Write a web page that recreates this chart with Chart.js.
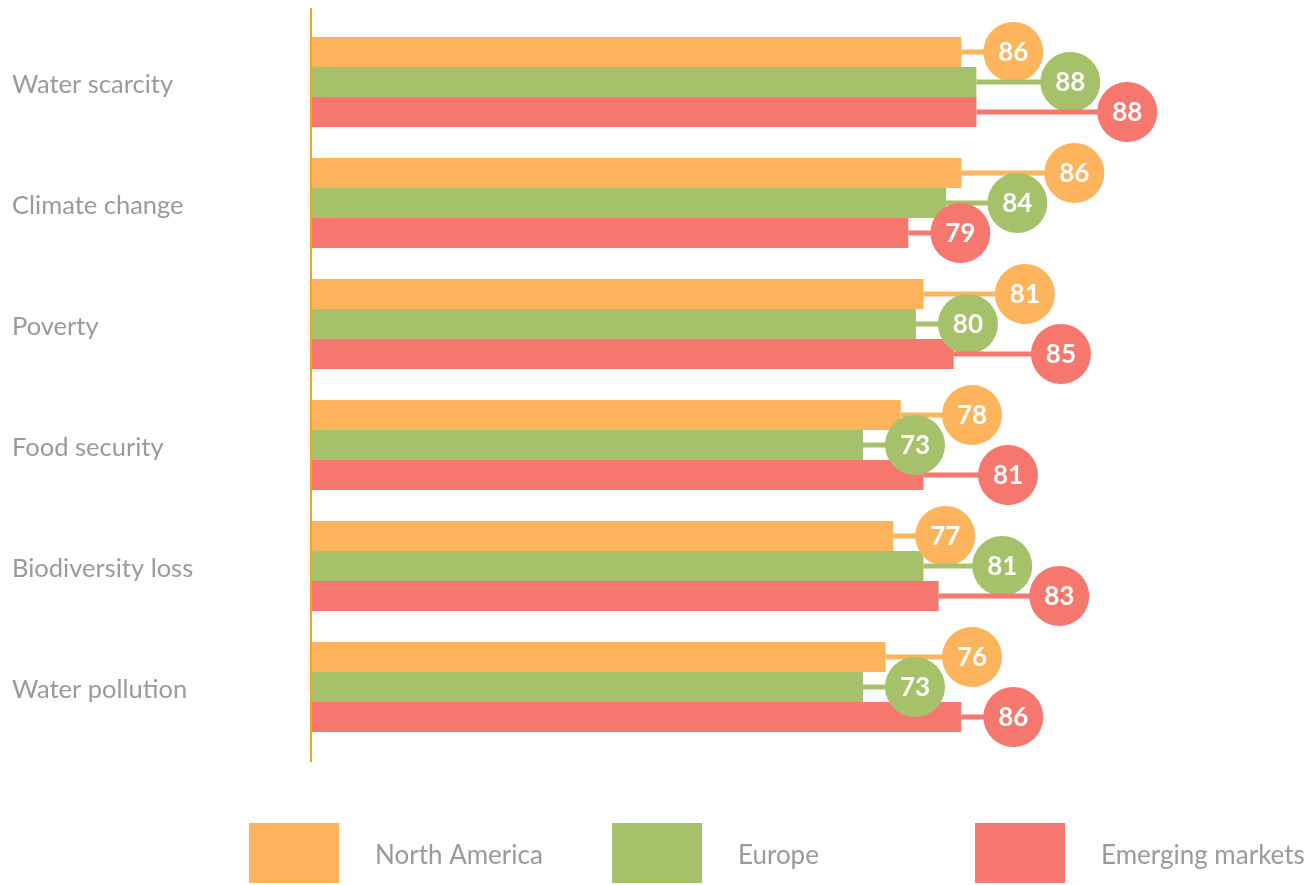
<!DOCTYPE html>
<html>
<head>
<meta charset="utf-8">
<script src="https://cdn.jsdelivr.net/npm/chart.js@4/dist/chart.umd.min.js"></script>
<style>
  body { margin: 0; background: #fff; }
  #wrap { width: 1308px; height: 885px; position: relative; }
</style>
</head>
<body>
<div id="wrap"><canvas id="chart"></canvas></div>
<script>
// datos
const categories = ['Water scarcity', 'Climate change', 'Poverty', 'Food security', 'Biodiversity loss', 'Water pollution'];
const seriesNames = ['North America', 'Europe', 'Emerging markets'];
const northAmerica = [86, 86, 81, 78, 77, 76];
const europe = [88, 84, 80, 73, 81, 73];
const emerging = [88, 79, 85, 81, 83, 86];
const colors = ['#FDB45C', '#A5C26B', '#F6776D'];

const gray = '#9A9A9E';
const R = 30;

// circulos con el valor, separados para que no se tapen
const bubbles = {
  id: 'bubbles',
  afterDatasetsDraw(chart) {
    const ctx = chart.ctx;
    const n = chart.data.labels.length;
    for (let i = 0; i < n; i++) {
      const items = chart.data.datasets.map((ds, k) => {
        const el = chart.getDatasetMeta(k).data[i];
        return { k: k, v: ds.data[i], end: el.x, y: el.y, cx: el.x + 52 };
      });
      // colocar de menor a mayor, empujando a la derecha
      const order = items.slice().sort((a, b) => a.v - b.v || a.k - b.k);
      const placed = [];
      order.forEach(it => {
        let x = it.cx;
        placed.forEach(p => {
          const rows = Math.abs(p.k - it.k);
          const sep = rows === 1 ? 57 : 36;
          if (Math.abs(x - p.cx) < sep) x = Math.max(x, p.cx + sep);
        });
        it.cx = x;
        placed.push(it);
      });
      items.forEach(it => {
        ctx.save();
        ctx.strokeStyle = colors[it.k];
        ctx.lineWidth = 5;
        ctx.beginPath();
        ctx.moveTo(it.end, it.y);
        ctx.lineTo(it.cx, it.y);
        ctx.stroke();
        ctx.fillStyle = colors[it.k];
        ctx.beginPath();
        ctx.arc(it.cx, it.y, R, 0, Math.PI * 2);
        ctx.fill();
        ctx.fillStyle = '#fff';
        ctx.font = 'bold 26px Lato';
        ctx.textAlign = 'center';
        ctx.textBaseline = 'middle';
        ctx.fillText(String(it.v), it.cx, it.y + 1);
        ctx.restore();
      });
    }
  },
  afterDraw(chart) {
    const ctx = chart.ctx;
    // eje vertical naranja
    const x0 = chart.scales.x.getPixelForValue(0);
    ctx.save();
    ctx.strokeStyle = '#F9A11B';
    ctx.lineWidth = 2;
    ctx.beginPath();
    ctx.moveTo(x0, 8);
    ctx.lineTo(x0, 762);
    ctx.stroke();
    // leyenda abajo
    ctx.font = '26px Lato';
    ctx.textBaseline = 'middle';
    ctx.textAlign = 'left';
    seriesNames.forEach((name, k) => {
      const bx = 249 + k * 363;
      ctx.fillStyle = colors[k];
      ctx.fillRect(bx, 823, 90, 60);
      ctx.fillStyle = gray;
      ctx.fillText(name, bx + 126, 856);
    });
    ctx.restore();
  }
};

const chart = new Chart(document.getElementById('chart'), {
  type: 'bar',
  data: {
    labels: categories,
    datasets: [
      { label: seriesNames[0], data: northAmerica, backgroundColor: colors[0] },
      { label: seriesNames[1], data: europe, backgroundColor: colors[1] },
      { label: seriesNames[2], data: emerging, backgroundColor: colors[2] }
    ]
  },
  options: {
    indexAxis: 'y',
    responsive: true,
    maintainAspectRatio: false,
    animation: false,
    categoryPercentage: 0.744,
    barPercentage: 1,
    layout: { padding: { left: 12, right: 14, top: 21.5, bottom: 137.5 } },
    scales: {
      x: { display: false, min: 0, max: 130 },
      y: {
        grid: { display: false },
        border: { display: false },
        ticks: { crossAlign: 'far', labelOffset: 3, color: gray, font: { family: 'Lato', size: 25.5 } },
        afterFit(scale) { scale.width = 299; }
      }
    },
    plugins: {
      legend: { display: false },
      tooltip: { enabled: false }
    }
  },
  plugins: [bubbles]
});
</script>
</body>
</html>
